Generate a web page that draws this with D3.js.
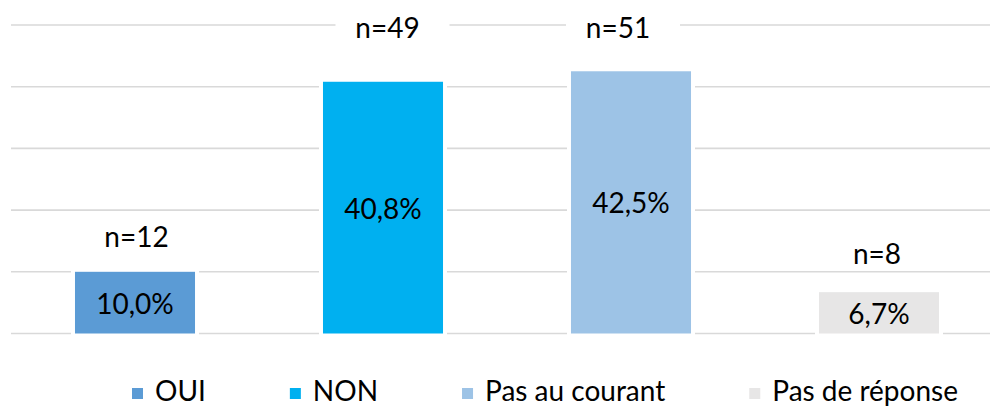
<!DOCTYPE html>
<html>
<head>
<meta charset="utf-8">
<script src="https://cdn.jsdelivr.net/npm/d3@7"></script>
<style>
  html, body { margin: 0; padding: 0; background: #fff; }
  svg { display: block; }
  text { font-family: Lato, "Open Sans", sans-serif; fill: #000; }
</style>
</head>
<body>
<svg id="chart" width="990" height="407"></svg>
<script>
// ---- data ----
const categories = ["OUI", "NON", "Pas au courant", "Pas de réponse"];
const percents = [10.0, 40.8, 42.5, 6.7];
const counts = [12, 49, 51, 8];
const yTicks = [0, 10, 20, 30, 40, 50];
const colors = ["#5B9BD5", "#00B0F0", "#9DC3E6", "#E7E6E6"];

// layout of the manually placed n= labels (offset from bar centre / bar top)
const nLabelDx = [1.5, 4.5, -13, -2];
const nLabelDy = [-36, -54.5, -44, -39];

const svg = d3.select("#chart");

const x = d3.scaleBand().domain(categories).range([11, 1003]).paddingInner(0.516).paddingOuter(0.258);
const y = d3.scaleLinear().domain([0, 50]).range([333.5, 25]);

// gridlines
const grid = svg.append("g").attr("class", "grid");
yTicks.forEach(t => {
  grid.append("line")
    .attr("x1", 11).attr("x2", 1003)
    .attr("y1", y(t)).attr("y2", y(t))
    .attr("stroke", "#D9D9D9").attr("stroke-width", 1.6);
});

const fmt = v => d3.format(".1f")(v).replace(".", ",") + "%";

const bw = x.bandwidth();
const data = categories.map((c, i) => ({ c, p: percents[i], n: counts[i], col: colors[i], i }));

// white halo behind bars (gridline gaps)
svg.append("g").selectAll("rect").data(data).join("rect")
  .attr("x", d => x(d.c) - 4)
  .attr("y", d => y(d.p) - 4)
  .attr("width", bw + 8)
  .attr("height", d => y(0) - y(d.p) + 8)
  .attr("fill", "#fff");

// bars
svg.append("g").selectAll("rect").data(data).join("rect")
  .attr("x", d => x(d.c))
  .attr("y", d => y(d.p))
  .attr("width", bw)
  .attr("height", d => y(0) - y(d.p))
  .attr("fill", d => d.col);

// value labels
svg.append("g").selectAll("text").data(data).join("text")
  .attr("x", d => x(d.c) + bw / 2)
  .attr("y", d => (y(d.p) + y(0)) / 2)
  .attr("text-anchor", "middle")
  .attr("dominant-baseline", "central")
  .attr("font-size", 28)
  .text(d => fmt(d.p));

// n= labels with white boxes
const nl = svg.append("g").selectAll("g").data(data).join("g")
  .attr("transform", d => `translate(${x(d.c) + bw / 2 + nLabelDx[d.i]},${y(d.p) + nLabelDy[d.i]})`);
nl.append("rect")
  .attr("x", -52).attr("y", -15).attr("width", 114).attr("height", 30)
  .attr("fill", "#fff");
nl.append("text")
  .attr("text-anchor", "middle")
  .attr("dominant-baseline", "central")
  .attr("font-size", 28)
  .text(d => "n=" + d.n);

// legend
const leg = svg.append("g").attr("class", "legend");
const items = leg.selectAll("g").data(data).join("g");
items.append("rect")
  .attr("width", 11).attr("height", 11)
  .attr("y", 388)
  .attr("fill", d => d.col);
items.append("text")
  .attr("x", 23)
  .attr("y", 401)
  .attr("font-size", 28)
  .text(d => d.c);
const widths = [];
items.each(function() { widths.push(this.getBBox().width); });
const gap = 84;
let cx = 132;
items.each(function(d, i) {
  d3.select(this).attr("transform", `translate(${cx},0)`);
  cx += widths[i] + gap;
});
</script>
</body>
</html>
